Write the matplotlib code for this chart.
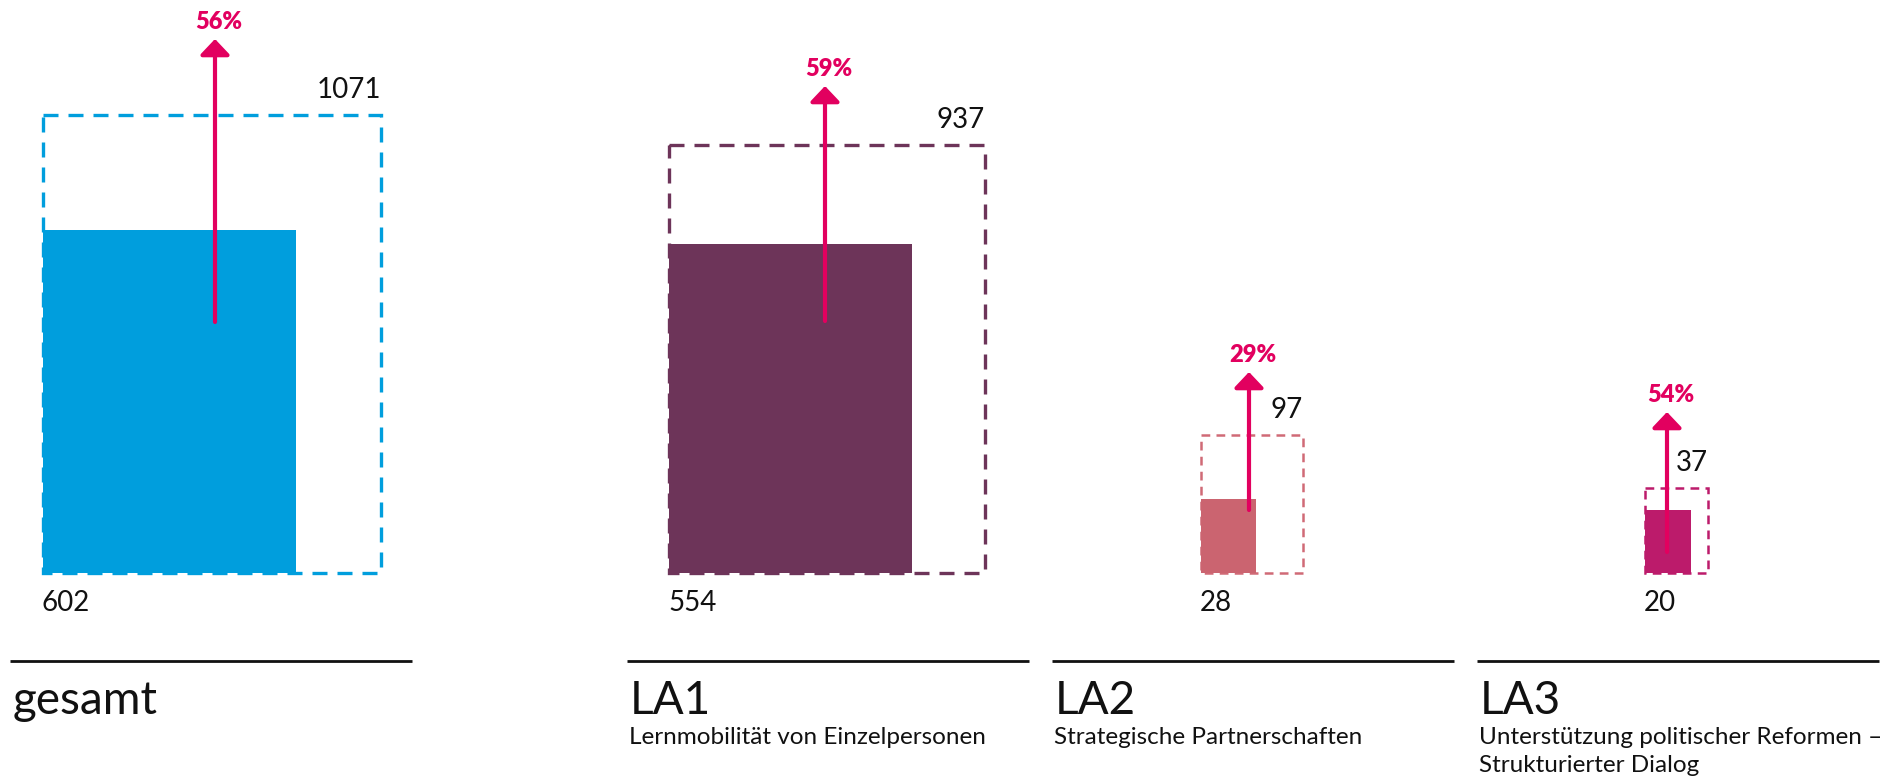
import numpy as np
import matplotlib
matplotlib.use("Agg")
import matplotlib.pyplot as plt
from matplotlib.patches import Rectangle

# ---- data ----
groups = ["gesamt", "LA1", "LA2", "LA3"]
subtitles = ["", "Lernmobilität von Einzelpersonen", "Strategische Partnerschaften",
             "Unterstützung politischer Reformen –\nStrukturierter Dialog"]
totals = [1071, 937, 97, 37]
parts = [602, 554, 28, 20]

# ---- style / layout ----
fill_colors = ["#009EDD", "#6D3459", "#CB6470", "#BC1B6B"]
dash_colors = ["#009EDD", "#6D3459", "#D06A76", "#BC1B6B"]
accent = "#E2005F"
FONT = "Lato"

W, H = 1883, 777
fig = plt.figure(figsize=(W / 100, H / 100), dpi=100)
ax = fig.add_axes([0, 0, 1, 1])
ax.set_xlim(0, W)
ax.set_ylim(H, 0)
ax.axis("off")

base_y = 573                       # common baseline of the boxes
box_left = [43, 669, 1201, 1645]   # left edge of each group's boxes
scale = 338 / np.sqrt(1071)        # width per sqrt(value)
aspect = 1.355                     # height / width of every box
arrow_x = [215, 825, 1249, 1667]
arrow_bottom = [322, 321, 510, 552]
arrow_top = [39, 86, 372, 412]
rule_left = [10, 627, 1052, 1477]
rule_width = 402
dash_lw = [2.4, 2.4, 1.8, 1.8]
dash_pat = [(4.5, 3.0), (4.5, 3.0), (3.5, 2.5), (3.5, 2.5)]

for i, g in enumerate(groups):
    x0 = box_left[i]
    tw = scale * np.sqrt(totals[i])
    th = tw * aspect
    pw = scale * np.sqrt(parts[i])
    ph = pw * aspect
    # dashed total box
    ax.add_patch(Rectangle((x0, base_y - th), tw, th, fill=False,
                           edgecolor=dash_colors[i], lw=dash_lw[i],
                           linestyle=(0, dash_pat[i]), zorder=1))
    # filled part box
    ax.add_patch(Rectangle((x0, base_y - ph), pw, ph, facecolor=fill_colors[i],
                           edgecolor="none", zorder=2))
    # arrow
    cx = arrow_x[i]
    ax.annotate("", xy=(cx, arrow_top[i]), xytext=(cx, arrow_bottom[i]),
                arrowprops=dict(arrowstyle="-|>,head_length=0.95,head_width=0.9",
                                color=accent, lw=3.0, shrinkA=0, shrinkB=0),
                zorder=3)
    pct = round(100 * parts[i] / totals[i])
    ax.text(cx + 4, arrow_top[i] - 10, f"{pct}%", ha="center", va="baseline",
            fontsize=17, fontweight="heavy", color=accent, family=FONT)
    # value labels
    ax.text(x0 + tw, base_y - th - 17, f"{totals[i]}", ha="right", va="baseline",
            fontsize=20, color="#111111", family=FONT)
    ax.text(x0 - 1, base_y + 38, f"{parts[i]}", ha="left", va="baseline",
            fontsize=20, color="#111111", family=FONT)
    # rule and titles
    ax.plot([rule_left[i], rule_left[i] + rule_width], [661, 661], color="#111111",
            lw=2.0, solid_capstyle="butt")
    ax.text(rule_left[i] + 3, 714, g, ha="left", va="baseline", fontsize=33,
            color="#111111", family=FONT)
    if subtitles[i]:
        ax.text(rule_left[i] + 2, 727, subtitles[i], ha="left", va="top",
                fontsize=17.5, color="#111111", family=FONT, linespacing=1.4)

fig.savefig("out.png", dpi=100)
